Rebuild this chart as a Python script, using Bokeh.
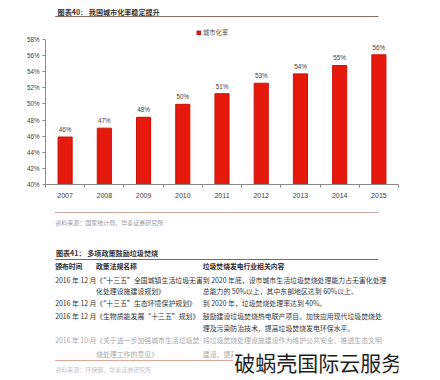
from bokeh.plotting import figure
from bokeh.layouts import column
from bokeh.models import ColumnDataSource, Range1d, FixedTicker
from bokeh.core.properties import value
from bokeh.embed import file_html
from bokeh.resources import INLINE

# ---------------- data ----------------
years = [2007, 2008, 2009, 2010, 2011, 2012, 2013, 2014, 2015]
urban_rate = [45.89, 46.99, 48.34, 49.95, 51.27, 52.57, 53.73, 54.77, 56.10]
bar_labels = ["46%", "47%", "48%", "50%", "51%", "53%", "54%", "55%", "56%"]
y_ticks = [40, 42, 44, 46, 48, 50, 52, 54, 56, 58]
series_name = "城市化率"

chart_title = "图表40：  我国城市化率稳定提升"
chart_source = "资料来源：国家统计局、华泰证券研究所"
table_title = "图表41：  多项政策鼓励垃圾焚烧"
table_header = ["颁布时间", "政策法规名称", "垃圾焚烧发电行业相关内容"]
row_dates = ["2016 年 12 月", "2016 年 12 月", "2016 年 12 月", "2016 年 10 月"]
row_policies = [
    ["《“十三五”全国城镇生活垃圾无害", "化处理设施建设规划》"],
    ["《“十三五”生态环境保护规划》"],
    ["《生物质能发展“十三五”规划》"],
    ["《关于进一步加强城市生活垃圾焚", "烧处理工作的意见》"],
]
row_contents = [
    ["到 2020 年底，设市城市生活垃圾焚烧处理能力占无害化处理", "总能力的 50%以上，其中东部地区达到 60%以上。"],
    ["到 2020 年，垃圾焚烧处理率达到 40%。"],
    ["鼓励建设垃圾焚烧热电联产项目。加快应用现代垃圾焚烧处", "理及污染防治技术，提高垃圾焚烧发电环保水平。"],
    ["将垃圾焚烧处理设施建设作为维护公共安全、推进生态文明", "建设、提高"],
]
table_source = "资料来源：环保部、华泰证券研究所"
watermark = "破蜗壳国际云服务"

CJK = value("Noto Sans CJK SC")
LAT = "Liberation Sans"
W = 440


def text_fig(height, y_top):
    f = figure(width=W, height=height, x_range=Range1d(0, W),
               y_range=Range1d(y_top + height, y_top),
               x_axis_type=None, y_axis_type=None, min_border=0,
               outline_line_color=None, toolbar_location=None,
               output_backend="svg")
    f.grid.visible = False
    return f


# ---------------- header ----------------
f1 = text_fig(26, 0)
f1.text(x=[15], y=[11.5], text=[chart_title], text_font=CJK, text_font_size="7.1px",
        text_font_style="bold", text_color="#333333", text_baseline="middle")
f1.segment(x0=[12], y0=[16], x1=[415], y1=[16], line_color="#8a6e62", line_width=1)

# ---------------- chart ----------------
f2 = figure(width=W, height=174, x_range=Range1d(2006.5, 2015.5),
            y_range=Range1d(40, 59.61), min_border_left=45, min_border_right=42,
            min_border_top=0, min_border_bottom=16, outline_line_color=None,
            toolbar_location=None, output_backend="svg")
f2.grid.grid_line_color = None
src = ColumnDataSource(dict(x=years, top=urban_rate, lab=bar_labels))
f2.vbar(x="x", top="top", bottom=40, width=0.36, source=src,
        fill_color="#e6190d", line_color="#cc140a", line_width=1,
        legend_label=series_name)
f2.text(x="x", y="top", text="lab", source=src, text_align="center",
        text_baseline="bottom", y_offset=-4, text_font=value(LAT),
        text_font_size="6.3px", text_color="#404040")

xa = f2.xaxis[0]
xa.ticker = FixedTicker(ticks=years, minor_ticks=[y - 0.5 for y in years] + [years[-1] + 0.5])
xa.major_label_overrides = {y: str(y) for y in years}
xa.major_tick_out = 0
xa.major_tick_in = 0
xa.minor_tick_out = 3
xa.minor_tick_in = 0
xa.major_label_standoff = 5
xa.major_label_text_font_size = "7px"

ya = f2.yaxis[0]
ya.ticker = FixedTicker(ticks=y_ticks)
ya.major_label_overrides = {t: f"{t}%" for t in y_ticks}
ya.bounds = (40, 58)
ya.major_tick_out = 3
ya.major_tick_in = 0
ya.major_label_standoff = 3
ya.major_label_text_font_size = "6.3px"

for ax in (xa, ya):
    ax.axis_line_color = "#8a8a8a"
    ax.major_tick_line_color = "#8a8a8a"
    ax.minor_tick_line_color = "#8a8a8a" if ax is xa else None
    ax.major_label_text_font = LAT
    ax.major_label_text_color = "#404040"

lg = f2.legend[0]
lg.location = (151, 147)
lg.label_text_font = "Noto Sans CJK SC"
lg.label_text_font_size = "6.3px"
lg.label_text_color = "#555555"
lg.glyph_width = 5
lg.glyph_height = 5
lg.label_height = 8
lg.label_standoff = 2
lg.padding = 0
lg.margin = 0
lg.spacing = 0
lg.border_line_color = None
lg.background_fill_alpha = 0

# ---------------- footer / table ----------------
f3 = text_fig(180, 200)
f3.segment(x0=[12], y0=[212], x1=[415], y1=[212], line_color="#c2a898", line_width=1)
f3.text(x=[12], y=[222], text=[chart_source], text_font=CJK, text_font_size="6px",
        text_color="#9a9a9a", text_baseline="middle")
f3.text(x=[13], y=[252], text=[table_title], text_font=CJK, text_font_size="7.1px",
        text_font_style="bold", text_color="#333333", text_baseline="middle")
f3.segment(x0=[12], y0=[259], x1=[415], y1=[259], line_color="#9c5e4c", line_width=1)

col_x = [12, 63, 196]
f3.text(x=col_x, y=[265.5] * 3, text=table_header, text_font=CJK, text_font_size="6.8px",
        text_font_style="bold", text_color="#2a2a2a", text_baseline="middle")

row_y = [279, 302, 315, 339]
line_gap = [11.5, 12, 12, 14]
row_color = ["#333333", "#333333", "#333333", "#a8a8a8"]
for i in range(len(row_dates)):
    y0 = row_y[i]
    f3.text(x=[col_x[0]], y=[y0], text=[row_dates[i]], text_font=CJK, text_font_size="6.9px",
            text_color=row_color[i], text_baseline="middle")
    for k, t in enumerate(row_policies[i]):
        f3.text(x=[col_x[1]], y=[y0 + k * line_gap[i]], text=[t], text_font=CJK,
                text_font_size="6.9px", text_color=row_color[i], text_baseline="middle")
    for k, t in enumerate(row_contents[i]):
        f3.text(x=[col_x[2]], y=[y0 + k * line_gap[i]], text=[t], text_font=CJK,
                text_font_size="6.9px", text_color=row_color[i], text_baseline="middle")

f3.segment(x0=[12], y0=[360], x1=[415], y1=[360], line_color="#e0a898", line_width=1)
f3.text(x=[12], y=[369], text=[table_source], text_font=CJK, text_font_size="6px",
        text_color="#c4c4c4", text_baseline="middle")
f3.text(x=[234], y=[361], text=[watermark], text_font=CJK, text_font_size="21px",
        text_color="#1e1e1e", text_baseline="middle", text_font_style="normal",
        background_fill_color="white", padding=1)

layout = column(f1, f2, f3, spacing=0)
open("out.html", "w").write(file_html(layout, INLINE))
